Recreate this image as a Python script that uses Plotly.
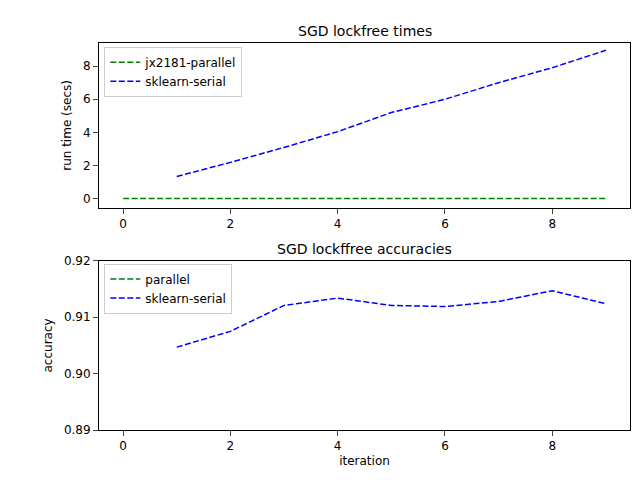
import plotly.graph_objs as go

# data
iters_all = list(range(10))
parallel_times = [0.02] * 10
iters_serial = list(range(1, 10))
serial_times = [1.35, 2.2, 3.1, 4.05, 5.2, 6.0, 7.0, 7.9, 8.95]
serial_acc = [0.9047, 0.9075, 0.9121, 0.9134, 0.9121, 0.9119, 0.9128, 0.9147, 0.9124]

dash = '6px,2.5px'
fig = go.Figure()
fig.add_trace(go.Scatter(x=iters_all, y=parallel_times, mode='lines', name='jx2181-parallel',
                         line=dict(color='green', dash=dash, width=1.5), xaxis='x', yaxis='y', legend='legend'))
fig.add_trace(go.Scatter(x=iters_serial, y=serial_times, mode='lines', name='sklearn-serial',
                         line=dict(color='blue', dash=dash, width=1.5), xaxis='x', yaxis='y', legend='legend'))
fig.add_trace(go.Scatter(x=[None], y=[None], mode='lines', name='parallel',
                         line=dict(color='green', dash=dash, width=1.5), xaxis='x2', yaxis='y2', legend='legend2'))
fig.add_trace(go.Scatter(x=iters_serial, y=serial_acc, mode='lines', name='sklearn-serial',
                         line=dict(color='blue', dash=dash, width=1.5), xaxis='x2', yaxis='y2', legend='legend2'))

ax = dict(showline=True, mirror=True, linecolor='black', ticks='outside', showgrid=False,
          zeroline=False, automargin=False, tickfont=dict(size=12))
fig.update_layout(
    width=640, height=480, plot_bgcolor='white', paper_bgcolor='white',
    font=dict(family='DejaVu Sans', color='black', size=12),
    margin=dict(l=91, r=18, t=35, b=58),
    xaxis=dict(ax, domain=[0, 1], range=[-0.45, 9.45], dtick=2, anchor='y'),
    yaxis=dict(ax, domain=[0.574, 1], range=[-0.54, 9.39], dtick=2, anchor='x',
               title=dict(text='run time (secs)', standoff=8, font=dict(size=12))),
    xaxis2=dict(ax, domain=[0, 1], range=[-0.45, 9.45], dtick=2, anchor='y2',
                title=dict(text='iteration', standoff=4, font=dict(size=12))),
    yaxis2=dict(ax, domain=[0, 0.437], range=[0.89, 0.92], dtick=0.01, tickformat='.2f', anchor='x2',
                title=dict(text='accuracy', standoff=8, font=dict(size=12))),
    legend=dict(x=0.01, y=0.99, xanchor='left', yanchor='top', font=dict(size=12),
                bordercolor='#ccc', borderwidth=1, bgcolor='white', tracegroupgap=0),
    legend2=dict(x=0.01, y=0.43, xanchor='left', yanchor='top', font=dict(size=12),
                 bordercolor='#ccc', borderwidth=1, bgcolor='white'),
    annotations=[
        dict(text='SGD lockfree times', x=0.5, y=1, xref='paper', yref='paper', yanchor='bottom',
             showarrow=False, font=dict(size=14), yshift=2),
        dict(text='SGD lockffree accuracies', x=0.5, y=0.437, xref='paper', yref='paper', yanchor='bottom',
             showarrow=False, font=dict(size=14), yshift=2),
    ],
)
fig.write_html("out.html")
